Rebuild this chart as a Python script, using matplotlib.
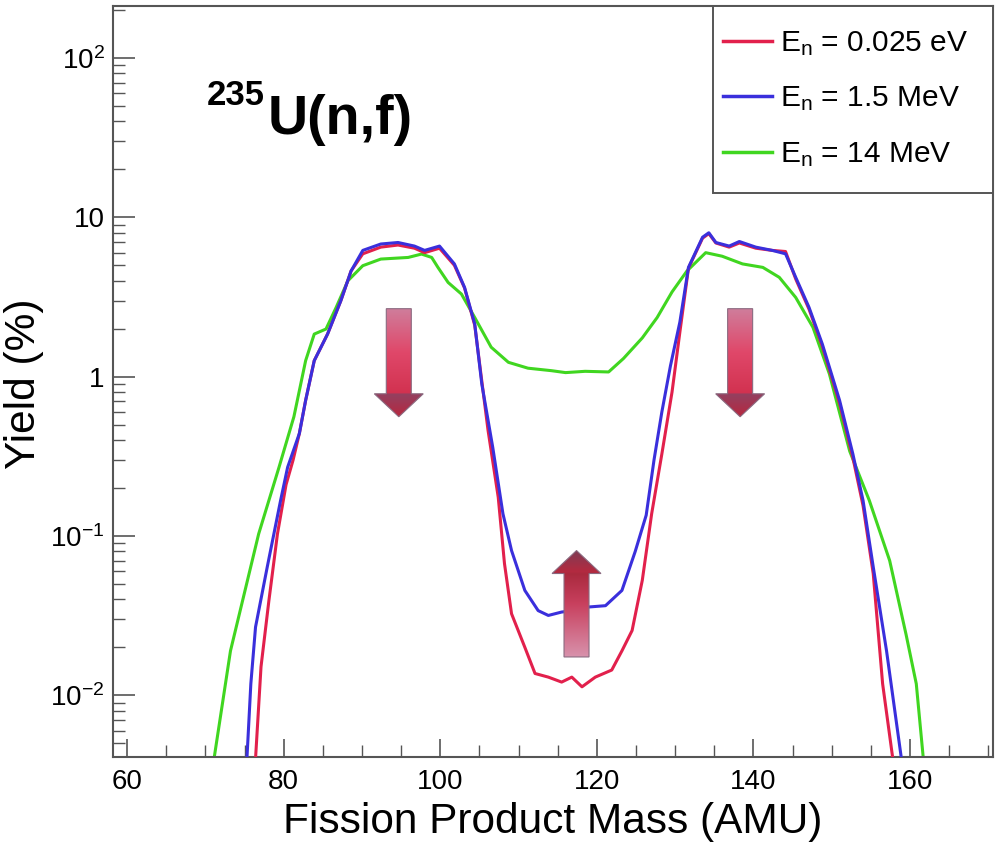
import numpy as np
import matplotlib
matplotlib.use("Agg")
import matplotlib.pyplot as plt
from matplotlib.patches import Polygon, Rectangle
from matplotlib.colors import LinearSegmentedColormap
from matplotlib.ticker import FixedLocator, LogLocator, NullFormatter, MultipleLocator

plt.rcParams['font.family'] = ['Liberation Sans', 'DejaVu Sans']
plt.rcParams['mathtext.fontset'] = 'custom'
plt.rcParams['mathtext.rm'] = 'Liberation Sans'
plt.rcParams['mathtext.it'] = 'Liberation Sans:italic'
plt.rcParams['mathtext.bf'] = 'Liberation Sans:bold'

# fission yields (mass in AMU, yield in %)
mass_thermal = [76.4, 77.1, 78.1, 79.2, 80.3, 81.2, 82.0, 82.8, 83.9, 85.6, 87.3, 88.6, 90.1,
                92.4, 94.6, 96.7, 98.0, 99.9, 101.8, 103.1, 104.4, 105.3, 106.1, 107.4,
                108.2, 109.1, 110.8, 112.1, 113.8, 115.5, 116.8, 118.1, 119.8, 121.9, 123.2,
                124.5, 125.8, 127.0, 128.3, 129.6, 130.6, 131.7, 133.5, 134.3, 135.2, 136.9,
                138.2, 140.3, 142.4, 144.1, 145.4, 147.1, 148.8, 151.0, 152.7, 154.0, 155.3,
                156.5, 157.8]
yield_thermal = [0.004, 0.0151, 0.039, 0.103, 0.21, 0.3, 0.44, 0.71, 1.26, 1.85, 3.0, 4.6, 5.9,
                 6.5, 6.7, 6.4, 6.0, 6.4, 5.0, 3.6, 2.1, 0.94, 0.46, 0.175,
                 0.067, 0.0325, 0.020, 0.0137, 0.0130, 0.0121, 0.0130, 0.0113, 0.0130, 0.0144, 0.019,
                 0.0255, 0.0526, 0.138, 0.327, 0.80, 1.9, 4.8, 7.4, 7.9, 6.9, 6.5,
                 6.9, 6.4, 6.2, 6.1, 4.1, 2.65, 1.55, 0.68, 0.31, 0.155, 0.058,
                 0.0118, 0.004]

mass_fast = [75.3, 75.8, 76.4, 77.9, 79.6, 80.5, 82.0, 82.8, 83.9, 85.6, 87.3, 88.6, 90.1,
             92.4, 94.6, 96.7, 98.0, 99.9, 101.8, 103.1, 104.4, 105.3, 106.7, 108.0, 109.1,
             110.8, 112.5, 113.8, 115.5, 117.0, 118.9, 121.1, 123.2, 124.9, 126.3, 127.3,
             128.3, 129.4, 130.6, 131.7, 133.5, 134.3, 135.2, 136.9, 138.2, 140.3, 142.4,
             144.1, 145.4, 147.1, 148.8, 151.0, 152.7, 154.0, 155.3, 157.0, 158.9]
yield_fast = [0.004, 0.0118, 0.0268, 0.064, 0.167, 0.27, 0.44, 0.71, 1.26, 1.85, 3.0, 4.6, 6.2,
              6.8, 6.95, 6.6, 6.2, 6.6, 5.1, 3.63, 2.14, 0.9, 0.36, 0.138, 0.081,
              0.0455, 0.034, 0.0317, 0.0333, 0.034, 0.0358, 0.0365, 0.0455, 0.08, 0.135, 0.3,
              0.6, 1.17, 2.2, 4.85, 7.5, 8.0, 6.95, 6.6, 7.05, 6.5, 6.2,
              5.9, 4.2, 2.72, 1.6, 0.71, 0.327, 0.167, 0.064, 0.019, 0.004]

mass_14 = [71.1, 73.2, 76.8, 79.4, 81.3, 82.8, 83.9, 85.4, 86.7, 88.2, 90.1, 92.4, 95.9,
           97.6, 98.9, 99.7, 101.0, 102.7, 104.4, 106.5, 108.7, 111.2, 114.2, 116.0, 118.5,
           121.5, 123.4, 125.8, 127.7, 129.6, 131.5, 133.9, 136.0, 138.6, 141.2, 143.3,
           145.4, 147.6, 149.7, 152.3, 154.8, 157.4, 159.5, 160.8, 161.7]
yield_14 = [0.004, 0.019, 0.103, 0.27, 0.56, 1.26, 1.85, 1.99, 2.72, 4.0, 4.97, 5.47, 5.6,
            5.88, 5.6, 4.85, 3.9, 3.3, 2.35, 1.53, 1.23, 1.13, 1.09, 1.06, 1.08,
            1.07, 1.3, 1.75, 2.35, 3.4, 4.6, 6.0, 5.7, 5.1, 4.85, 4.2,
            3.14, 2.04, 1.04, 0.34, 0.167, 0.070, 0.024, 0.0118, 0.004]

labels = [r'E$_\mathregular{n}$ = 0.025 eV', r'E$_\mathregular{n}$ = 1.5 MeV', r'E$_\mathregular{n}$ = 14 MeV']
colors = ['#e2204c', '#3a2fdc', '#40d620']

ytick_vals = [1e-2, 1e-1, 1, 10, 100]
ytick_labels = [r'$10^{-2}$', r'$10^{-1}$', '1', '10', r'$10^{2}$']

# arrows: centre mass, tail yield, tip yield
arrows = [(94.7, 2.67, 0.56), (138.3, 2.67, 0.56), (117.4, 0.0174, 0.081)]

fig = plt.figure(figsize=(9.96, 8.47), dpi=100)
ax = fig.add_axes([0.1135, 0.1063, 0.997 - 0.1135, 0.9929 - 0.1063])

ax.plot(mass_14, yield_14, color=colors[2], lw=2.2, label=labels[2], zorder=2)
ax.plot(mass_thermal, yield_thermal, color=colors[0], lw=2.2, label=labels[0], zorder=3)
ax.plot(mass_fast, yield_fast, color=colors[1], lw=2.2, label=labels[1], zorder=4)

ax.set_yscale('log')
ax.set_xlim(58.2, 170.6)
ax.set_ylim(0.0041, 212)

ax.xaxis.set_major_locator(FixedLocator([60, 80, 100, 120, 140, 160]))
ax.xaxis.set_minor_locator(MultipleLocator(5))
ax.yaxis.set_major_locator(FixedLocator(ytick_vals))
ax.set_yticklabels(ytick_labels)
ax.yaxis.set_minor_locator(LogLocator(base=10, subs=np.arange(2, 10)))
ax.yaxis.set_minor_formatter(NullFormatter())

spine_col = '#555555'
for s in ax.spines.values():
    s.set_color(spine_col)
    s.set_linewidth(1.5)
ax.tick_params(axis='both', which='both', direction='in', color=spine_col, top=False, right=False)
ax.tick_params(axis='x', which='major', length=13, width=1.2, labelsize=20, pad=9)
ax.tick_params(axis='x', which='minor', length=8.5, width=1.0)
ax.tick_params(axis='y', which='major', length=16, width=1.2, labelsize=20, pad=6)
ax.tick_params(axis='y', which='minor', length=8.5, width=1.0)

ax.set_xlabel('Fission Product Mass (AMU)', fontsize=30.5, labelpad=5)
ax.set_ylabel('Yield (%)', fontsize=30.5)
ax.yaxis.set_label_coords(-0.078, 0.497)

# legend frame drawn as a box, entries placed inside it
frame = Rectangle((0.6818, 0.751), 1.0 - 0.6818, 1.0 - 0.751, transform=ax.transAxes,
                  facecolor='white', edgecolor=spine_col, lw=1.4, zorder=7)
ax.add_patch(frame)
handles, labs = ax.get_legend_handles_labels()
order = [1, 2, 0]
leg = ax.legend([handles[i] for i in order], [labs[i] for i in order], loc='upper left',
                bbox_to_anchor=(0.6932, 0.9694), borderaxespad=0, borderpad=0, fontsize=21.5,
                handlelength=1.64, handletextpad=0.27, labelspacing=0.9, frameon=False)
leg.set_zorder(8)
for ln in leg.get_lines():
    ln.set_linewidth(2.5)

# reaction label
ax.text(0.1068, 0.868, '235', transform=ax.transAxes, fontsize=25, fontweight='bold', va='baseline')
ax.text(0.176, 0.8296, 'U(n,f)', transform=ax.transAxes, fontsize=40, fontweight='bold', va='baseline')

# gradient arrows
down_cmap = LinearSegmentedColormap.from_list('down', [(0.0, '#cf7e9c'), (0.4, '#e0486a'),
                                                       (0.78, '#d23250'), (0.79, '#934060'),
                                                       (1.0, '#b8283f')])
up_cmap = LinearSegmentedColormap.from_list('up', [(0.0, '#7e3c54'), (0.2, '#b42a40'),
                                                   (0.22, '#aa2a3e'), (0.5, '#c8405e'),
                                                   (1.0, '#d892ac')])
to_axes = ax.transData + ax.transAxes.inverted()
shaft_hw = 0.0142
head_hw = 0.0278
head_len = 0.0306
for xc, y_tail, y_tip in arrows:
    (ax_x, ay_tail) = to_axes.transform((xc, y_tail))
    (_, ay_tip) = to_axes.transform((xc, y_tip))
    sign = 1 if ay_tip > ay_tail else -1
    ay_head = ay_tip - sign * head_len
    verts = [(ax_x - shaft_hw, ay_tail), (ax_x + shaft_hw, ay_tail), (ax_x + shaft_hw, ay_head),
             (ax_x + head_hw, ay_head), (ax_x, ay_tip), (ax_x - head_hw, ay_head),
             (ax_x - shaft_hw, ay_head)]
    poly = Polygon(verts, closed=True, transform=ax.transAxes, facecolor='none',
                   edgecolor='#8a6a80', lw=0.8, zorder=6)
    ax.add_patch(poly)
    grad = np.linspace(0, 1, 256).reshape(-1, 1)
    cmap = up_cmap if sign > 0 else down_cmap
    im = ax.imshow(grad, cmap=cmap, extent=[ax_x - head_hw, ax_x + head_hw, min(ay_tail, ay_tip),
                   max(ay_tail, ay_tip)], transform=ax.transAxes, origin='upper', aspect='auto',
                   interpolation='bilinear', zorder=5)
    im.set_clip_path(poly)

ax.set_xlim(58.2, 170.6)
ax.set_ylim(0.0041, 212)

fig.savefig('out.png', dpi=100, facecolor='white')
